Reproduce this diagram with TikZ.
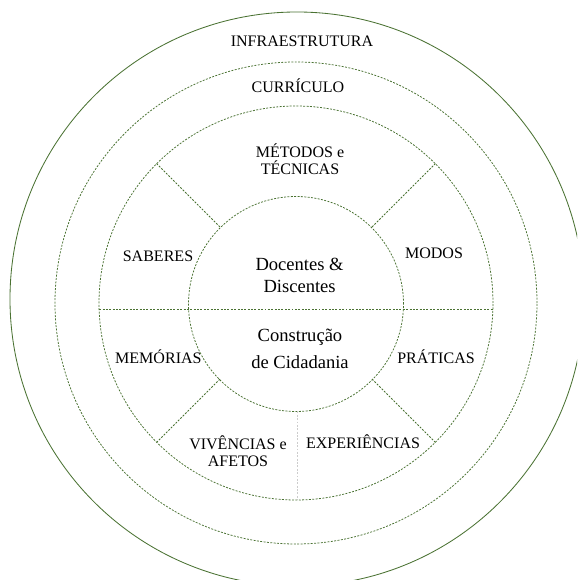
\documentclass[tikz,border=0pt]{standalone}
\usepackage{fontspec}
\setmainfont{Liberation Serif}
\definecolor{olivering}{HTML}{4A7232}
\tikzset{
  ring/.style={olivering, line width=0.55pt, dash pattern=on 1.4pt off 1pt},
  layertext/.style={font=\fontsize{11.4}{12.2}\selectfont, align=center, inner sep=0pt},
  coretext/.style={font=\fontsize{13.2}{15}\selectfont, align=center, inner sep=0pt}
}

\begin{document}
\begin{tikzpicture}
	\useasboundingbox (-7.4,-6.925) rectangle (7.025,7.575);
	\clip (-7.4,-6.925) rectangle (7.025,7.575);
	\draw[olivering, line width=0.6pt] (0.025,0.1) circle (7.175);
	\draw[ring] (0,0) circle (6.025);
	\draw[ring] (0,0) circle (4.925);
	\draw[ring] (0,-0.025) circle (2.6875);
	\draw[ring] (-4.92,-0.15) -- (4.92,-0.15);
	\draw[ring] (45:2.69) -- (45:4.93);
	\draw[ring] (135:2.69) -- (135:4.93);
	\draw[ring] (225:2.69) -- (225:4.93);
	\draw[ring] (315:2.69) -- (315:4.93);
	\draw[gray!40, line width=0.55pt, dash pattern=on 1.4pt off 1pt] (0.025,-2.71) -- (0.025,-4.925);
	\node[layertext] (infra) at (0.15,6.55) {INFRAESTRUTURA};
	\node[layertext] (curriculo) at (0.05,5.425) {CURRÍCULO};
	\node[layertext] (metodos) at (0.1,3.6) {MÉTODOS e\\TÉCNICAS};
	\node[layertext] (saberes) at (-3.45,1.175) {SABERES};
	\node[layertext] (modos) at (3.45,1.25) {MODOS};
	\node[layertext] (memorias) at (-3.44,-1.35) {MEMÓRIAS};
	\node[layertext] (praticas) at (3.5,-1.35) {PRÁTICAS};
	\node[layertext] (vivencias) at (-1.45,-3.7) {VIVÊNCIAS e\\AFETOS};
	\node[layertext] (experiencias) at (1.675,-3.475) {EXPERIÊNCIAS};
	\node[coretext] (docentes) at (0.09,0.69) {Docentes \&\\Discentes};
	\node[coretext, font=\fontsize{13.2}{19.2}\selectfont] (cidadania) at (0.1,-1.14) {Construção\\de Cidadania};
\end{tikzpicture}
\end{document}
